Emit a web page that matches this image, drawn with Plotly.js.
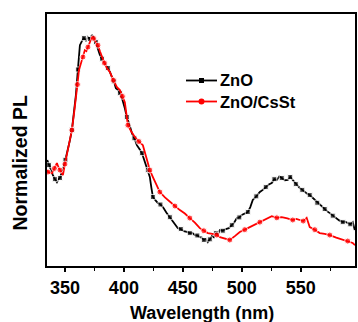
<!DOCTYPE html>
<html>
<head>
<meta charset="utf-8">
<script src="https://cdn.plot.ly/plotly-3.0.1.min.js"></script>
<style>html,body{margin:0;padding:0;background:#fff;}#chart{width:358px;height:322px;}</style>
</head>
<body>
<div id="chart"></div>
<script>
// ZnO (black)
const znoWavelength = [335, 336.5, 338.2, 339.8, 341.5, 343.2, 344.5, 345.8, 347.1, 348.3, 350.4, 352.5, 354.2, 355.9, 357.6, 359.3, 361.0, 362.7, 364.4, 366.1, 367.8, 369.5, 371.2, 372.9, 374.6, 376.3, 378.0, 379.7, 381.4, 383.1, 384.8, 386.4, 388.1, 389.8, 391.5, 393.2, 394.9, 396.6, 398.7, 400.8, 402.5, 404.6, 406.8, 408.9, 411.0, 413.2, 415.3, 416.9, 418.6, 420.3, 422.0, 423.3, 424.6, 426.7, 428.8, 431.0, 433.1, 436.0, 439.0, 442.4, 445.8, 448.3, 450.8, 453.4, 455.9, 458.0, 460.2, 462.3, 464.4, 466.1, 467.8, 469.5, 471.2, 472.9, 474.6, 476.3, 478.0, 479.7, 481.4, 483.9, 486.4, 489.0, 491.5, 493.6, 495.8, 497.9, 500.0, 502.5, 505.1, 507.2, 509.3, 512.3, 515.3, 517.8, 520.3, 522.9, 525.4, 527.6, 529.7, 531.8, 533.9, 536.5, 539.0, 541.1, 543.2, 544.5, 545.8, 547.5, 549.2, 551.3, 553.4, 555.5, 557.6, 559.8, 561.9, 564.0, 566.1, 568.2, 570.3, 572.5, 574.6, 577.1, 579.7, 582.6, 585.6, 587.7, 589.8, 592.0, 594.1, 595.8];
const znoPL = [0.419, 0.395, 0.372, 0.349, 0.330, 0.316, 0.330, 0.335, 0.358, 0.372, 0.420, 0.465, 0.510, 0.558, 0.640, 0.721, 0.840, 0.953, 0.972, 0.986, 0.975, 0.991, 0.982, 1.0, 0.985, 0.967, 0.935, 0.907, 0.890, 0.874, 0.862, 0.847, 0.830, 0.805, 0.785, 0.753, 0.745, 0.730, 0.700, 0.660, 0.619, 0.585, 0.544, 0.520, 0.488, 0.470, 0.451, 0.425, 0.395, 0.372, 0.340, 0.290, 0.247, 0.232, 0.219, 0.212, 0.200, 0.175, 0.153, 0.128, 0.102, 0.098, 0.088, 0.085, 0.079, 0.080, 0.070, 0.068, 0.060, 0.058, 0.047, 0.052, 0.037, 0.050, 0.065, 0.060, 0.079, 0.072, 0.093, 0.090, 0.098, 0.102, 0.116, 0.128, 0.149, 0.152, 0.163, 0.170, 0.177, 0.200, 0.233, 0.250, 0.270, 0.280, 0.293, 0.305, 0.312, 0.330, 0.326, 0.342, 0.335, 0.325, 0.326, 0.340, 0.326, 0.318, 0.307, 0.295, 0.288, 0.280, 0.270, 0.262, 0.256, 0.245, 0.233, 0.220, 0.209, 0.200, 0.191, 0.180, 0.172, 0.160, 0.149, 0.138, 0.130, 0.132, 0.126, 0.120, 0.130, 0.093];

// ZnO/CsSt (red)
const csstWavelength = [335, 335.6, 337.3, 339.0, 341.1, 343.2, 344.5, 345.8, 347.1, 348.3, 350.0, 351.7, 353.8, 355.9, 357.6, 359.3, 360.6, 361.9, 363.6, 365.3, 366.9, 368.2, 369.5, 371.2, 372.9, 374.2, 375.4, 376.7, 378.0, 379.7, 381.4, 383.5, 385.6, 388.1, 391.1, 394.1, 396.6, 398.7, 400.8, 402.1, 403.4, 406.4, 409.3, 412.7, 416.1, 419.1, 422.0, 425.0, 428.0, 430.5, 434.8, 439.0, 443.3, 447.5, 451.7, 455.9, 460.2, 464.4, 467.8, 471.2, 475.0, 478.8, 481.4, 485.6, 489.8, 494.1, 498.3, 502.5, 506.8, 511.0, 515.3, 520.3, 525.4, 529.7, 533.9, 538.6, 543.2, 546.2, 549.2, 552.1, 555.0, 557.6, 561.9, 566.1, 570.3, 574.6, 580.1, 585.6, 589.8, 594.1, 596.0];
const csstPL = [0.372, 0.363, 0.360, 0.358, 0.380, 0.405, 0.385, 0.372, 0.360, 0.349, 0.400, 0.451, 0.500, 0.558, 0.630, 0.698, 0.770, 0.837, 0.870, 0.898, 0.930, 0.925, 0.944, 0.965, 0.991, 0.985, 0.977, 0.960, 0.953, 0.925, 0.898, 0.870, 0.847, 0.828, 0.790, 0.758, 0.744, 0.715, 0.688, 0.635, 0.581, 0.550, 0.526, 0.505, 0.488, 0.430, 0.372, 0.335, 0.302, 0.270, 0.245, 0.223, 0.205, 0.186, 0.170, 0.149, 0.128, 0.102, 0.090, 0.079, 0.075, 0.070, 0.060, 0.055, 0.047, 0.065, 0.084, 0.095, 0.107, 0.118, 0.130, 0.145, 0.158, 0.150, 0.153, 0.148, 0.140, 0.145, 0.140, 0.135, 0.150, 0.107, 0.095, 0.079, 0.075, 0.070, 0.058, 0.047, 0.042, 0.033, 0.023];

const xTicks = [350, 400, 450, 500, 550];
const seriesNames = ['ZnO', 'ZnO/CsSt'];
const seriesColors = ['#000000', '#ff0000'];

function markerSizes(n, every, size) {
  const s = [];
  for (let i = 0; i < n; i++) s.push(i % every === 1 ? size : 0);
  return s;
}

const fam = 'Liberation Sans, Arial, sans-serif';
const boldFont = (size) => ({family: fam, size: size, color: '#000', weight: 'bold'});

const traces = [
  {
    x: znoWavelength, y: znoPL, name: seriesNames[0], type: 'scatter', mode: 'lines+markers',
    line: {color: seriesColors[0], width: 1.8},
    marker: {symbol: 'square', color: seriesColors[0], size: markerSizes(znoWavelength.length, 3, 5)}
  },
  {
    x: csstWavelength, y: csstPL, name: seriesNames[1], type: 'scatter', mode: 'lines+markers',
    line: {color: seriesColors[1], width: 1.8},
    marker: {symbol: 'circle', color: seriesColors[1], size: markerSizes(csstWavelength.length, 3, 6)}
  }
];

// plot area in pixels: left 47, right 355, top 14, bottom 266
const PL = 47, PW = 308, PT = 14, PH = 252;
const px = (x) => (x - PL) / PW;
const py = (y) => (PT + PH - y) / PH;

const legendRows = [80.5, 101.5];
const shapes = [];
const annotations = [];
legendRows.forEach((ry, i) => {
  shapes.push({type: 'line', xref: 'paper', yref: 'paper', x0: px(186), x1: px(217), y0: py(ry), y1: py(ry),
    line: {color: seriesColors[i], width: 1.8}});
  if (i === 0) {
    shapes.push({type: 'rect', xref: 'paper', yref: 'paper', xsizemode: 'pixel', ysizemode: 'pixel',
      xanchor: px(201.5), yanchor: py(ry), x0: -2.5, x1: 2.5, y0: -2.5, y1: 2.5,
      fillcolor: seriesColors[i], line: {width: 0}});
  } else {
    shapes.push({type: 'circle', xref: 'paper', yref: 'paper', xsizemode: 'pixel', ysizemode: 'pixel',
      xanchor: px(201.5), yanchor: py(ry), x0: -3, x1: 3, y0: -3, y1: 3,
      fillcolor: seriesColors[i], line: {width: 0}});
  }
  annotations.push({xref: 'paper', yref: 'paper', x: px(219), y: py(ry), xanchor: 'left', yanchor: 'middle',
    text: seriesNames[i], showarrow: false, borderpad: 0, font: boldFont(16.5)});
});
// axis titles
annotations.push({xref: 'paper', yref: 'paper', x: px(202), y: py(312.5), xanchor: 'center', yanchor: 'middle',
  text: 'Wavelength (nm)', showarrow: false, font: boldFont(18)});
annotations.push({xref: 'paper', yref: 'paper', x: px(19), y: py(162.5), xanchor: 'center', yanchor: 'middle',
  text: 'Normalized PL', textangle: -90, showarrow: false, font: boldFont(19.5)});

const layout = {
  width: 358, height: 322,
  margin: {l: 47, r: 3, t: 14, b: 56},
  paper_bgcolor: '#fff', plot_bgcolor: '#fff',
  showlegend: false,
  shapes: shapes,
  annotations: annotations,
  xaxis: {
    range: [334.8, 596],
    tickvals: xTicks, ticktext: xTicks.map(String),
    ticks: 'outside', ticklen: 4, tickwidth: 1.5, tickcolor: '#000',
    minor: {tickvals: [375, 425, 475, 525, 575], ticks: 'outside', ticklen: 3, tickwidth: 1.2, tickcolor: '#000'},
    showline: true, linewidth: 2, linecolor: '#000', mirror: true,
    showgrid: false, zeroline: false,
    tickfont: boldFont(18)
  },
  yaxis: {
    range: [-0.074, 1.098],
    showticklabels: false, ticks: '',
    showline: true, linewidth: 2, linecolor: '#000', mirror: true,
    showgrid: false, zeroline: false
  }
};

Plotly.newPlot('chart', traces, layout, {displayModeBar: false, staticPlot: true});
</script>
</body>
</html>
